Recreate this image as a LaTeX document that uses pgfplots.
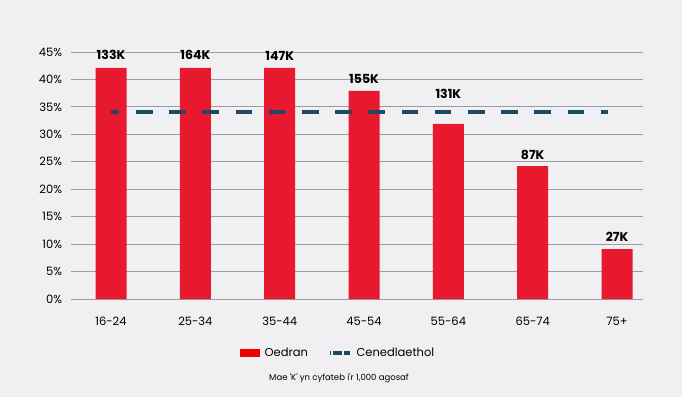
\documentclass[border=0pt]{standalone}
\usepackage{fontspec}
\setmainfont{Poppins}
\usepackage{pgfplots}
\pgfplotsset{compat=1.18}
\definecolor{bg}{RGB}{240,240,243}
\definecolor{barred}{RGB}{232,25,46}
\definecolor{legred}{RGB}{240,0,0}
\definecolor{natblue}{RGB}{27,74,99}
\definecolor{gridc}{RGB}{155,155,160}
\begin{document}
\begin{tikzpicture}
\useasboundingbox (0,0) rectangle (682bp,397bp);
\fill[bg] (0,0) rectangle (682bp,397bp);
\begin{axis}[
  at={(70.7bp,98bp)}, anchor=south west,
  scale only axis, width=572.3bp, height=247bp,
  xmin=-0.478, xmax=6.308, ymin=0, ymax=45,
  clip=false,
  axis line style={draw=none},
  tick style={draw=none},
  ymajorgrids,
  major grid style={gridc, line width=0.9bp},
  ytick={0,5,...,45},
  /pgf/number format/assume math mode=true,
  yticklabel={\pgfmathprintnumber{\tick}\%},
  xtick={0,...,6},
  xticklabels={16-24,25-34,35-44,45-54,55-64,65-74,75+},
  ticklabel style={font=\fontsize{11.5bp}{13bp}\selectfont, text=black},
  yticklabel style={anchor=east, inner sep=0pt, xshift=-8.5bp},
  xticklabel style={anchor=north, inner sep=0pt, yshift=-17.5bp},
  legend style={draw=none, fill=none, at={(axis description cs:0.4653,-0.2186)}, anchor=center,
    font=\fontsize{11.5bp}{13bp}\selectfont, text=black, inner sep=0pt, nodes={inner sep=0pt},
    column sep=5bp, /tikz/every even column/.append style={column sep=20bp}},
  legend columns=2,
]
\addplot[ybar, bar width=31bp, fill=barred, draw=none,
  legend image code/.code={\fill[legred] (0bp,-4bp) rectangle (20bp,4bp);}]
  coordinates {(0,42.1) (1,42.1) (2,42.1) (3,37.9) (4,31.9) (5,24.2) (6,9.1)};
\addlegendentry{Oedran}
\addplot[natblue, line width=4bp, dash pattern=on 16.6bp off 16.6bp, dash phase=8.3bp,
  legend image code/.code={\draw[natblue, line width=3.5bp, dash pattern=on 8.7bp off 2.6bp] (0bp,0bp) -- (20bp,0bp);}]
  coordinates {(0,34) (5.894,34)};
\addlegendentry{Cenedlaethol}
\addplot[draw=none, mark=none, forget plot, nodes near coords, point meta=explicit symbolic,
  nodes near coords style={anchor=south, inner sep=0pt, font=\fontsize{12.5bp}{14bp}\selectfont\bfseries, text=black}]
  table[meta=lab] {
x y lab
0 43.5 133K
1 43.5 164K
2 43.5 147K
3 39.3 155K
4 36.4 131K
5 25.3 87K
6 10.4 27K
};
\node[font=\fontsize{8.5bp}{10bp}\selectfont, text=black] at (axis description cs:0.4688,-0.3198)
  {Mae \textquotesingle K\textquotesingle\ yn cyfateb i\textquotesingle r 1,000 agosaf};
\end{axis}
\end{tikzpicture}
\end{document}
